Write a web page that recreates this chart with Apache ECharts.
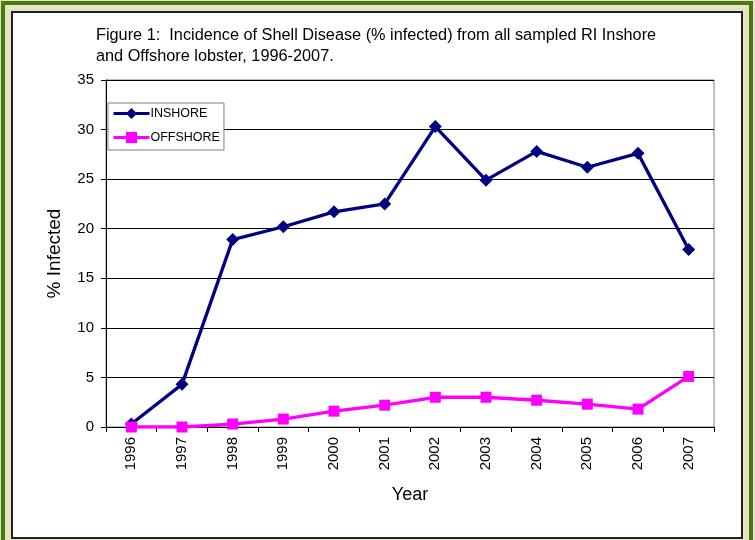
<!DOCTYPE html>
<html>
<head>
<meta charset="utf-8">
<script src="https://cdn.jsdelivr.net/npm/echarts@6/dist/echarts.min.js"></script>
<style>
  html, body { margin: 0; padding: 0; background: #e6e3c6; }
  #chart { width: 755px; height: 540px; }
</style>
</head>
<body>
<div id="chart"></div>
<script>
  // years on the x axis
  var years = ['1996', '1997', '1998', '1999', '2000', '2001', '2002', '2003', '2004', '2005', '2006', '2007']
  // % infected
  var inshore = [0.3, 4.3, 18.9, 20.2, 21.7, 22.5, 30.3, 24.9, 27.8, 26.2, 27.6, 17.9]
  var offshore = [0, 0, 0.3, 0.8, 1.6, 2.2, 3.0, 3.0, 2.7, 2.3, 1.8, 5.1]

  var font = 'Arial, "Liberation Sans", sans-serif'
  var myChart = echarts.init(document.getElementById('chart'))
  myChart.setOption({
    backgroundColor: '#e6e3c6',
    animation: false,
    textStyle: { fontFamily: font, color: '#000' },
    graphic: [
      // picture frame
      { type: 'rect', z: -10, shape: { x: 3, y: 3, width: 748, height: 560 },
        style: { fill: 'none', stroke: '#4b7a0c', lineWidth: 4 } },
      { type: 'rect', z: -9, shape: { x: 12, y: 12, width: 730, height: 526 },
        style: { fill: '#fff', stroke: '#222', lineWidth: 2 } },
      { type: 'text', left: 96, top: 25,
        style: { text: 'Figure 1:  Incidence of Shell Disease (% infected) from all sampled RI Inshore\nand Offshore lobster, 1996-2007.',
          font: '16.3px ' + font, fill: '#000', lineHeight: 21 } }
    ],
    legend: {
      orient: 'vertical',
      left: 108,
      top: 103,
      itemWidth: 36,
      itemHeight: 14,
      itemGap: 11,
      padding: [4, 4, 6, 4],
      borderColor: '#808080',
      borderWidth: 1,
      backgroundColor: '#fff',
      lineStyle: { width: 3 },
      textStyle: { fontSize: 12.5, color: '#000', fontFamily: font, padding: [0, 0, 0, -4] },
      data: ['INSHORE', 'OFFSHORE']
    },
    grid: {
      left: 106,
      right: 41,
      top: 80,
      bottom: 113,
      show: true,
      borderColor: '#808080',
      borderWidth: 1
    },
    xAxis: {
      type: 'category',
      data: years,
      boundaryGap: true,
      name: 'Year',
      nameLocation: 'middle',
      nameGap: 59,
      nameTextStyle: { fontSize: 18, color: '#000', fontFamily: font },
      axisLine: { lineStyle: { color: '#000', width: 1 } },
      axisTick: { show: true, length: 5, lineStyle: { color: '#000' } },
      axisLabel: { rotate: 90, fontSize: 15, color: '#000', margin: 10, interval: 0 },
      splitLine: { show: false }
    },
    yAxis: {
      type: 'value',
      min: 0,
      max: 35,
      interval: 5,
      name: '% Infected',
      nameLocation: 'middle',
      nameGap: 42,
      nameTextStyle: { fontSize: 19, color: '#000', fontFamily: font },
      axisLine: { show: true, lineStyle: { color: '#000', width: 1 } },
      axisTick: { show: true, length: 5, lineStyle: { color: '#000' } },
      axisLabel: { fontSize: 15, color: '#000', margin: 12 },
      splitLine: { lineStyle: { color: '#000', width: 1 } }
    },
    series: [
      {
        name: 'INSHORE',
        type: 'line',
        data: inshore,
        symbol: 'diamond',
        symbolSize: 13,
        itemStyle: { color: '#000080' },
        lineStyle: { color: '#000080', width: 3.3 }
      },
      {
        name: 'OFFSHORE',
        type: 'line',
        data: offshore,
        symbol: 'rect',
        symbolSize: 11,
        itemStyle: { color: '#ff00ff' },
        lineStyle: { color: '#ff00ff', width: 3.3 }
      }
    ]
  })
</script>
</body>
</html>
